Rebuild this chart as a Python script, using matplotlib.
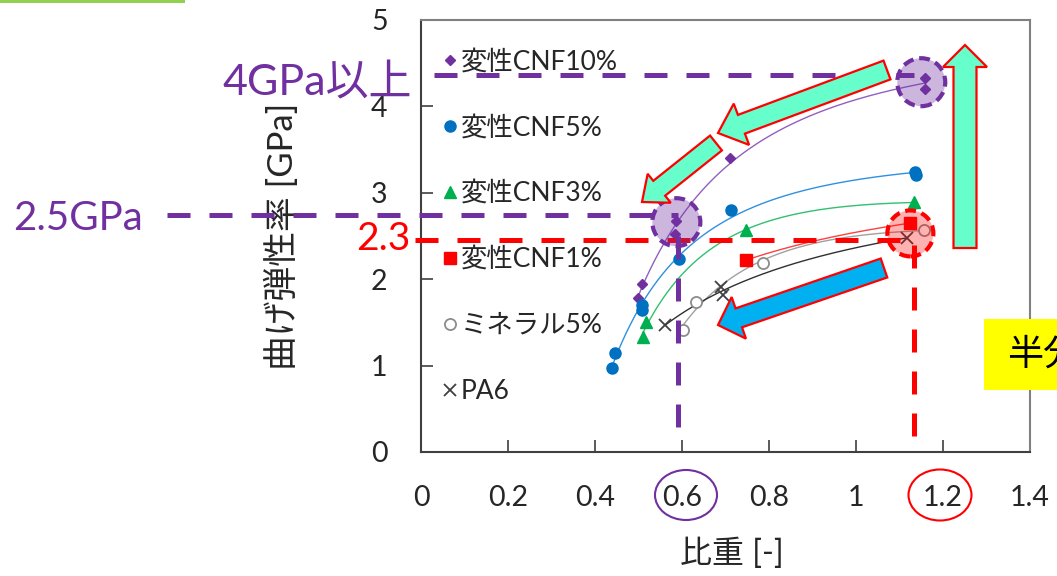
import numpy as np
import matplotlib
matplotlib.use("Agg")
import matplotlib.pyplot as plt
from matplotlib import patches
from matplotlib.lines import Line2D

plt.rcParams['font.family'] = ['Lato', 'Noto Sans CJK JP', 'DejaVu Sans']

# ---------------- data ----------------
cnf10_x = [0.498, 0.507, 0.585, 0.587, 0.711, 1.159, 1.159]
cnf10_y = [1.78, 1.94, 2.52, 2.67, 3.40, 4.20, 4.33]
cnf5_x = [0.439, 0.446, 0.507, 0.507, 0.592, 0.713, 1.136, 1.138]
cnf5_y = [0.97, 1.15, 1.64, 1.70, 2.23, 2.80, 3.24, 3.21]
cnf3_x = [0.510, 0.517, 0.747, 1.134]
cnf3_y = [1.33, 1.50, 2.57, 2.89]
cnf1_x = [0.747, 1.125]
cnf1_y = [2.22, 2.65]
min5_x = [0.603, 0.633, 0.786, 1.157]
min5_y = [1.41, 1.74, 2.19, 2.57]
pa6_x = [0.562, 0.690, 0.695, 1.118]
pa6_y = [1.47, 1.91, 1.82, 2.48]

series_labels = ['変性CNF10%', '変性CNF5%', '変性CNF3%', '変性CNF1%', 'ミネラル5%', 'PA6']
x_ticks = [0, 0.2, 0.4, 0.6, 0.8, 1.0, 1.2, 1.4]
x_tick_labels = ['0', '0.2', '0.4', '0.6', '0.8', '1', '1.2', '1.4']
y_ticks = [0, 1, 2, 3, 4, 5]
y_tick_labels = ['0', '1', '2', '3', '4', '5']

# reference levels
level_4gpa = 4.36
level_25gpa = 2.74
level_23 = 2.45
sg_light = 0.59
sg_pa6 = 1.134

W, H = 1057, 576
fig = plt.figure(figsize=(W / 100, H / 100), dpi=100)
ax = fig.add_axes([421 / W, 124 / H, 609 / W, 432 / H])
ax.set_xlim(0, 1.4)
ax.set_ylim(0, 5)

PURPLE = '#7030A0'
styles = [
    (cnf10_x, cnf10_y, dict(marker='D', ms=5.5, color=PURPLE, mec=PURPLE), '#9060C0'),
    (cnf5_x, cnf5_y, dict(marker='o', ms=8, color='#0070C0', mec='#0070C0'), '#3090E0'),
    (cnf3_x, cnf3_y, dict(marker='^', ms=9, color='#00B050', mec='#00B050'), '#30C070'),
    (cnf1_x, cnf1_y, dict(marker='s', ms=8, color='#FF0000', mec='#FF0000'), '#FF4040'),
    (min5_x, min5_y, dict(marker='o', ms=8, color='white', mec='#8C8C8C', mew=1.3), '#A0A0A0'),
    (pa6_x, pa6_y, dict(marker='x', ms=8, color='#404040', mec='#404040', mew=1.3), '#303030'),
]

handles = []
for (xs, ys, mk, lc), lab in zip(styles, series_labels):
    xs = np.asarray(xs); ys = np.asarray(ys)
    u = 1.0 / xs
    deg = min(2, len(xs) - 1)
    p = np.polyfit(u, ys, deg)
    xx = np.linspace(xs.min(), xs.max(), 200)
    ax.plot(xx, np.polyval(p, 1.0 / xx), color=lc, lw=1.0, zorder=2)
    ax.plot(xs, ys, linestyle='none', zorder=3, **mk)
    handles.append(Line2D([], [], linestyle='none', **mk))

leg = ax.legend(handles, series_labels, loc='upper left', bbox_to_anchor=(0.0, 0.975),
                frameon=False, fontsize=19, handlelength=0.8, handletextpad=0.02,
                labelspacing=1.55, borderaxespad=0.3, labelcolor='#262626')

# ticks / spines
ax.set_xticks(x_ticks)
ax.set_xticklabels(x_tick_labels)
ax.set_yticks(y_ticks)
ax.set_yticklabels(y_tick_labels)
ax.tick_params(direction='in', length=8.6, width=1.2, pad=24, labelsize=20.5,
               colors='#404040', labelcolor='#262626')
for s in ['left', 'bottom']:
    ax.spines[s].set_color('#404040')
    ax.spines[s].set_linewidth(1.5)
for s in ['top', 'right']:
    ax.spines[s].set_color('#808080')
    ax.spines[s].set_linewidth(1.5)

ax.set_xlabel('比重 [-]', fontsize=23, color='#262626')
ax.xaxis.label.set_va('center')
ax.xaxis.set_label_coords(0.511, -0.234)
ax.set_ylabel('曲げ弾性率 [GPa]', fontsize=25, color='#262626')
ax.yaxis.label.set_va('center')
ax.yaxis.set_label_coords(-0.229, 0.5)

# dashed reference lines
dash = (0, (4.6, 3.8))
ax.plot([0.03, 1.134], [level_4gpa, level_4gpa], color=PURPLE, lw=3.6, ls=dash,
        clip_on=False, zorder=4)
ax.plot([-0.585, sg_light], [level_25gpa, level_25gpa], color=PURPLE, lw=3.6, ls=dash,
        clip_on=False, zorder=4)
ax.plot([-0.014, 1.125], [level_23, level_23], color='#FF0000', lw=3.6, ls=dash,
        clip_on=False, zorder=4)
ax.plot([sg_light, sg_light], [2.5, 0.22], color=PURPLE, lw=3.6, ls=dash, zorder=4)
ax.plot([sg_pa6, sg_pa6], [2.4, 0.05], color='#FF0000', lw=3.6, ls=dash, zorder=4)

# highlight circles (data coords, round in pixels)
pxx, pxy = 609 / 1.4, 432 / 5.0
def circ(cx, cy, r, fc, ec):
    e = patches.Ellipse((cx, cy), 2 * r / pxx, 2 * r / pxy, facecolor=fc, edgecolor=ec,
                        lw=3, ls=(0, (2.6, 1.4)), zorder=5, clip_on=False)
    ax.add_patch(e)
circ(0.587, 2.66, 24, (0.44, 0.19, 0.63, 0.35), PURPLE)
circ(1.150, 4.28, 24, (0.44, 0.19, 0.63, 0.35), PURPLE)
circ(1.125, 2.53, 23, (1.0, 0.0, 0.0, 0.30), '#FF0000')

# arrows in figure pixel coords
def arrow(tail, tip, sw, hw, hl, fc):
    t = np.array(tail, float); p = np.array(tip, float)
    d = p - t; L = np.hypot(*d); u = d / L; n = np.array([-u[1], u[0]])
    b = p - u * hl
    pts = [t + n * sw / 2, b + n * sw / 2, b + n * hw / 2, p,
           b - n * hw / 2, b - n * sw / 2, t - n * sw / 2]
    pts = [(q[0] / W, 1 - q[1] / H) for q in pts]
    fig.patches.append(patches.Polygon(pts, closed=True, facecolor=fc, edgecolor='#FF0000',
                                       lw=1.6, transform=fig.transFigure, zorder=6))
arrow((965, 248), (965, 45), 23, 44, 22, '#66FFCC')
arrow((887, 70), (718, 133), 20, 44, 25, '#66FFCC')
arrow((716, 143), (642, 202), 19, 37, 22, '#66FFCC')
arrow((884, 268), (718, 325), 20, 44, 22, '#00B0F0')

# circles around tick labels
fig.patches.append(patches.Ellipse((686 / W, 1 - 495 / H), 62 / W, 50 / H, fill=False,
                                   edgecolor=PURPLE, lw=1.5, transform=fig.transFigure))
fig.patches.append(patches.Ellipse((940 / W, 1 - 495 / H), 63 / W, 51 / H, fill=False,
                                   edgecolor='#FF0000', lw=1.5, transform=fig.transFigure))

# annotation texts
fig.text(222 / W, 1 - 95 / H, '4GPa以上', color=PURPLE, fontsize=31, va='baseline', ha='left')
fig.text(13 / W, 1 - 230 / H, '2.5GPa', color=PURPLE, fontsize=29, va='baseline', ha='left')
fig.text(410 / W, 1 - 250 / H, '2.3', color='#FF0000', fontsize=28, va='baseline', ha='right')

# yellow box (cut at right edge)
fig.patches.append(patches.Rectangle((984 / W, 1 - 390 / H), 80 / W, 71 / H,
                                     facecolor='#FFFF00', edgecolor='none',
                                     transform=fig.transFigure, zorder=7))
fig.text(1007 / W, 1 - 354 / H, '半分', color='black', fontsize=26, va='center', ha='left',
         zorder=8)

# green bar at top-left
fig.patches.append(patches.Rectangle((0, 1 - 3 / H), 185 / W, 3 / H, facecolor='#92D050',
                                     edgecolor='none', transform=fig.transFigure))

fig.savefig('out.png', dpi=100)
